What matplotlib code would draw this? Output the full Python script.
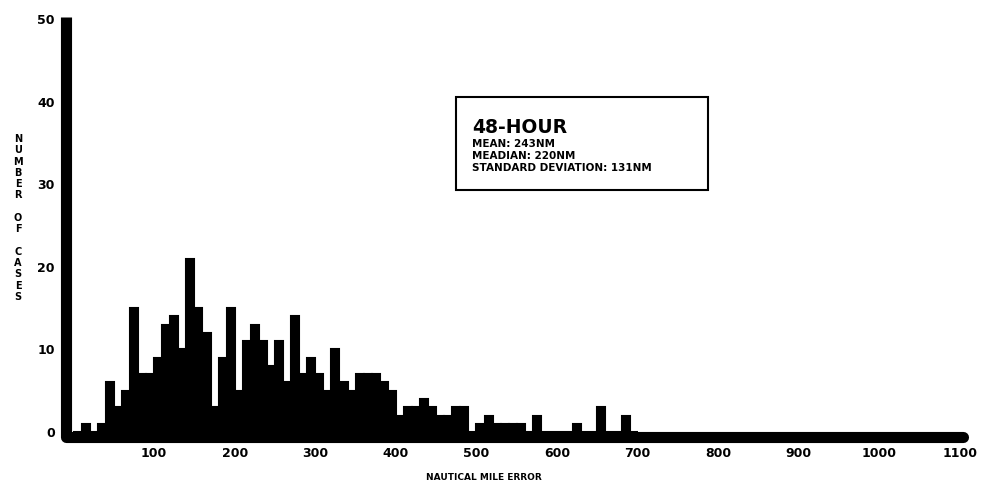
import numpy as np
import matplotlib
matplotlib.use("Agg")
import matplotlib.pyplot as plt
from matplotlib.patches import Rectangle

# 10 NM bins, counts
bin_left = np.arange(0, 700, 10)
cases = [0, 1, 0, 1, 6, 3, 5, 15, 7, 7,
         9, 13, 14, 10, 21, 15, 12, 3, 9, 15,
         5, 11, 13, 11, 8, 11, 6, 14, 7, 9,
         7, 5, 10, 6, 5, 7, 7, 7, 6, 5,
         2, 3, 3, 4, 3, 2, 2, 3, 3, 0,
         1, 2, 1, 1, 1, 1, 0, 2, 0, 0,
         0, 0, 1, 0, 0, 3, 0, 0, 2, 0]

x_ticks = [100, 200, 300, 400, 500, 600, 700, 800, 900, 1000, 1100]
x_labels = ["100", "200", "300", "400", "500", "600", "700", "800", "900", "1000", "1100"]
y_ticks = [0, 10, 20, 30, 40, 50]

box_title = "48-HOUR"
box_lines = ["MEAN: 243NM", "MEADIAN: 220NM", "STANDARD DEVIATION: 131NM"]

W, H = 983, 493
fig = plt.figure(figsize=(W / 100, H / 100), dpi=100)
ax = fig.add_axes([66 / W, 56 / H, 896.5 / W, 420.5 / H])

ax.bar(bin_left, cases, width=10, align="edge", color="black",
       edgecolor="black", linewidth=1.5)

ax.set_xlim(-9.3, 1103)
ax.set_ylim(-0.6, 50.3)

for s in ["top", "right"]:
    ax.spines[s].set_visible(False)
for s in ["left", "bottom"]:
    ax.spines[s].set_linewidth(8)
    ax.spines[s].set_color("black")
ax.spines["left"].set_capstyle("butt")
ax.spines["bottom"].set_capstyle("round")

ax.set_xticks(x_ticks)
ax.set_xticklabels(x_labels)
ax.set_yticks(y_ticks)
ax.tick_params(axis="x", length=0, pad=7.5, labelsize=9)
ax.tick_params(axis="y", length=0, pad=8, labelsize=9)
for lab in ax.get_xticklabels() + ax.get_yticklabels():
    lab.set_fontweight("bold")

# x label
fig.text(484 / W, 1 - 478 / H, "NAUTICAL MILE ERROR", ha="center", va="center",
         fontsize=6.5, fontweight="bold")

# stacked y label
ylab = "NUMBER OF CASES"
ys = np.linspace(139, 297, len(ylab))
for ch, yy in zip(ylab, ys):
    if ch != " ":
        fig.text(18 / W, 1 - yy / H, ch, ha="center", va="center",
                 fontsize=7, fontweight="bold")

# stats box
fig.patches.append(Rectangle((456 / W, 1 - 190 / H), 252 / W, 93 / H,
                             transform=fig.transFigure, fill=False,
                             edgecolor="black", linewidth=1.5))
fig.text(472 / W, 1 - 133 / H, box_title, ha="left", va="baseline",
         fontsize=13.5, fontweight="bold")
for line, yb in zip(box_lines, [147, 159, 171]):
    fig.text(472 / W, 1 - yb / H, line, ha="left", va="baseline",
             fontsize=7.5, fontweight="bold")

fig.savefig("out.png", dpi=100)
